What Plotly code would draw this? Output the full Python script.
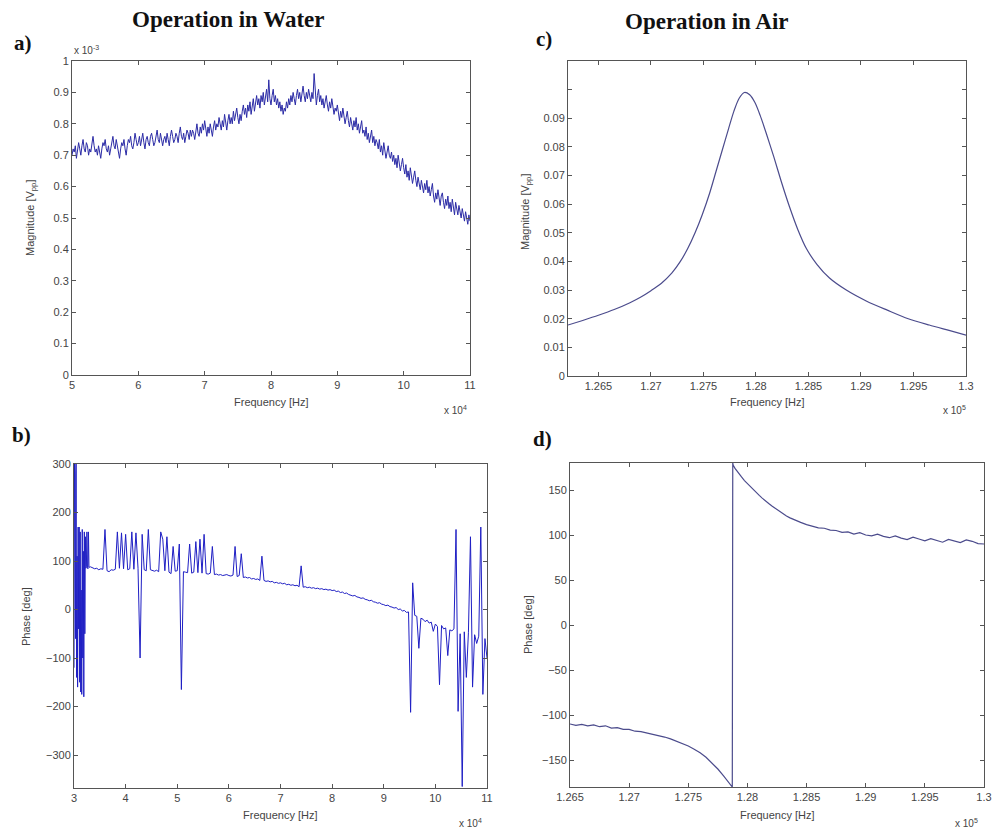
import numpy as np
import plotly.graph_objects as go

# ---------------- data ----------------
# a) magnitude in water, sweep 5e4 .. 11e4 Hz (x in units of 1e4 Hz, y in units of 1e-3 Vpp)
freq_water_mag = np.linspace(5.0, 11.0, 361)
mag_water = [
    0.70, 0.72, 0.71, 0.73, 0.69, 0.72, 0.74, 0.72, 0.70, 0.73, 0.75, 0.72,
    0.71, 0.74, 0.73, 0.70, 0.72, 0.71, 0.74, 0.76, 0.73, 0.71, 0.72, 0.70,
    0.73, 0.71, 0.69, 0.72, 0.74, 0.73, 0.75, 0.72, 0.71, 0.73, 0.70, 0.72,
    0.74, 0.76, 0.73, 0.72, 0.75, 0.73, 0.71, 0.69, 0.72, 0.74, 0.73, 0.75,
    0.72, 0.70, 0.73, 0.75, 0.74, 0.76, 0.73, 0.72, 0.74, 0.77, 0.75, 0.73,
    0.74, 0.76, 0.73, 0.75, 0.77, 0.74, 0.72, 0.75, 0.76, 0.74, 0.73, 0.76,
    0.77, 0.75, 0.73, 0.74, 0.76, 0.78, 0.75, 0.74, 0.77, 0.75, 0.73, 0.75,
    0.76, 0.74, 0.77, 0.75, 0.73, 0.76, 0.78, 0.76, 0.74, 0.75, 0.77, 0.76,
    0.74, 0.77, 0.79, 0.76, 0.75, 0.77, 0.74, 0.76, 0.78, 0.77, 0.75, 0.78,
    0.76, 0.78, 0.77, 0.75, 0.78, 0.80, 0.77, 0.76, 0.79, 0.77, 0.80, 0.78,
    0.81, 0.78, 0.76, 0.79, 0.77, 0.80, 0.78, 0.76, 0.79, 0.81, 0.78, 0.80,
    0.79, 0.82, 0.80, 0.78, 0.81, 0.79, 0.83, 0.80, 0.78, 0.81, 0.83, 0.80,
    0.82, 0.80, 0.84, 0.81, 0.83, 0.85, 0.82, 0.80, 0.83, 0.81, 0.84, 0.86,
    0.83, 0.85, 0.82, 0.86, 0.84, 0.87, 0.83, 0.85, 0.88, 0.84, 0.86, 0.89,
    0.86, 0.88, 0.85, 0.89, 0.87, 0.90, 0.86, 0.88, 0.91, 0.87, 0.94, 0.88,
    0.86, 0.89, 0.91, 0.87, 0.89, 0.86, 0.88, 0.85, 0.87, 0.84, 0.86, 0.83,
    0.85, 0.84, 0.87, 0.85, 0.88, 0.86, 0.89, 0.87, 0.90, 0.88, 0.86, 0.89,
    0.91, 0.88, 0.90, 0.87, 0.89, 0.92, 0.89, 0.87, 0.90, 0.88, 0.91, 0.89,
    0.87, 0.90, 0.88, 0.96, 0.89, 0.86, 0.89, 0.91, 0.87, 0.89, 0.86, 0.88,
    0.85, 0.87, 0.89, 0.86, 0.84, 0.87, 0.85, 0.88, 0.86, 0.83, 0.85, 0.84,
    0.86, 0.83, 0.81, 0.84, 0.82, 0.85, 0.83, 0.80, 0.82, 0.84, 0.81, 0.79,
    0.82, 0.80, 0.78, 0.81, 0.79, 0.82, 0.78, 0.80, 0.77, 0.79, 0.81, 0.77,
    0.78, 0.76, 0.79, 0.75, 0.77, 0.74, 0.76, 0.78, 0.74, 0.76, 0.73, 0.75,
    0.74, 0.72, 0.75, 0.71, 0.73, 0.70, 0.74, 0.72, 0.69, 0.71, 0.73, 0.70,
    0.69, 0.71, 0.68, 0.70, 0.67, 0.69, 0.66, 0.70, 0.68, 0.65, 0.67, 0.69,
    0.66, 0.64, 0.67, 0.63, 0.65, 0.62, 0.66, 0.64, 0.61, 0.63, 0.65, 0.62,
    0.60, 0.63, 0.61, 0.59, 0.62, 0.60, 0.58, 0.61, 0.59, 0.62, 0.58, 0.60,
    0.57, 0.59, 0.61, 0.57, 0.55, 0.58, 0.56, 0.59, 0.57, 0.54, 0.57, 0.58,
    0.55, 0.53, 0.56, 0.54, 0.57, 0.53, 0.55, 0.52, 0.56, 0.54, 0.51, 0.55,
    0.53, 0.51, 0.54, 0.52, 0.50, 0.53, 0.51, 0.49, 0.52, 0.50, 0.48, 0.51,
    0.49,
]

# b) phase in water, sweep 3e4 .. 11e4 Hz (x in units of 1e4 Hz):
#    fine steps over the unsettled start, coarser steps afterwards
freq_water_phase = np.concatenate([np.linspace(3.00, 3.29, 30), np.linspace(3.32, 11.0, 193)])
phase_water = [
    -120, 300, 280, -60, 300, -140, 110, -160, 170, -40,
    170, -150, 160, -170, 40, -175, 165, -100, 120, -180,
    160, -50, 150, 85, 88, 160, 86, 84, 160, 87,
    88, 86,
    84, 85, 82, 84, 83, 165, 80, 78, 82, 81,
    83, 160, 85, 158, 84, 155, 82, 84, 160, 83,
    158, 85, -100, 155, 82, 80, 165, 82, 80, 79,
    81, 78, 160, 145, 80, 150, 77, 74, 130, 79,
    80, 135, -165, 78, 77, 76, 135, 75, 77, 140,
    76, 145, 75, 155, 74, 73, 75, 130, 72, 73,
    71, 72, 70, 71, 72, 70, 69, 71, 130, 68,
    70, 115, 66, 67, 65, 66, 63, 64, 62, 63,
    60, 110, 60, 58, 59, 57, 58, 55, 56, 54,
    55, 53, 54, 51, 52, 50, 51, 49, 50, 47,
    90, 46, 47, 45, 46, 44, 45, 43, 44, 42,
    43, 41, 42, 40, 41, 39, 40, 37, 38, 35,
    36, 33, 34, 31, 30, 28, 29, 26, 25, 23,
    24, 21, 20, 18, 19, 16, 15, 13, 14, 11,
    10, 8, 9, 6, 5, 3, 4, 0, 1, -3,
    -2, -6, -5, -212, 55, -12, -14, -80, -18, -20,
    -25, -22, -28, -26, -45, -30, -35, -155, -33, -40,
    -38, -95, -42, -44, -40, 165, -210, -50, -365, -46,
    -140, -48, 150, -160, -52, -70, -55, 170, -175, -60,
    -100,
]

# c) magnitude in air (x in units of 1e5 Hz, y in Vpp)
freq_air_mag = [
    1.2621, 1.2635, 1.2650, 1.2665, 1.2680, 1.2690, 1.2700, 1.2710, 1.2720, 1.2728,
    1.2735, 1.2742, 1.2749, 1.2756, 1.2762, 1.2768, 1.2774, 1.2779, 1.2784, 1.2789,
    1.2794, 1.2799, 1.2804, 1.2810, 1.2817, 1.2824, 1.2832, 1.2840, 1.2848, 1.2858,
    1.2870, 1.2886, 1.2905, 1.2925, 1.2945, 1.2965, 1.2983, 1.3000,
]
mag_air = [
    0.0178, 0.0194, 0.0212, 0.0232, 0.0256, 0.0275, 0.0298, 0.0324, 0.0360, 0.0400,
    0.0445, 0.0500, 0.0565, 0.0640, 0.0715, 0.0790, 0.0865, 0.0925, 0.0970, 0.0990,
    0.0982, 0.0955, 0.0910, 0.0845, 0.0765, 0.0680, 0.0590, 0.0510, 0.0445, 0.0390,
    0.0342, 0.0300, 0.0262, 0.0230, 0.0200, 0.0178, 0.0160, 0.0143,
]

# d) phase in air (x in units of 1e5 Hz, y in degrees)
freq_air_phase = [
    1.2650, 1.2655, 1.2660, 1.2665, 1.2670, 1.2675, 1.2680, 1.2685, 1.2690, 1.2695,
    1.2700, 1.2705, 1.2710, 1.2715, 1.2720, 1.2725, 1.2730, 1.2735, 1.2740, 1.2745,
    1.2750, 1.2755, 1.2760, 1.2765, 1.2770, 1.2775, 1.2780, 1.2785, 1.27872, 1.27876,
    1.2788, 1.27895, 1.2791, 1.2793, 1.2795, 1.27975, 1.2800, 1.28025, 1.2805, 1.28075,
    1.2810, 1.28125, 1.2815, 1.2818, 1.2821, 1.2824, 1.2827, 1.2830, 1.2833, 1.2836,
    1.2840, 1.2845, 1.2850, 1.2855, 1.2860, 1.2865, 1.2870, 1.2875, 1.2880,
    1.2885, 1.2890, 1.2895, 1.2900, 1.2905, 1.2910, 1.2915, 1.2920, 1.2925, 1.2930,
    1.2935, 1.2940, 1.2945, 1.2950, 1.2955, 1.2960, 1.2965, 1.2970, 1.2975, 1.2980,
    1.2985, 1.2990, 1.2995, 1.3000,
]
phase_air = [
    -110, -111.5, -110.5, -112, -111, -113, -112, -114.5, -114, -116,
    -116, -118, -118.5, -120, -121, -122.5, -124.5, -126.5, -129, -131.5,
    -134.5, -138, -142, -147, -153, -160, -168, -177, -180, 180,
    177.5, 174, 171, 167.5, 164.5, 160.5, 157, 153.5, 150, 147,
    144, 141, 138, 135, 132, 129, 126, 123.5, 121, 119,
    116.5, 114, 111.5, 110, 108, 107.5, 105.5, 105, 103,
    103.5, 101, 102.5, 100, 99, 101, 98.5, 97, 99, 96.5,
    95, 97.5, 95.5, 93.5, 96, 94, 92, 95, 93, 91.5,
    94.5, 93, 90.5, 90,
]

# tick labels
ticks_mag_water = [0, 0.1, 0.2, 0.3, 0.4, 0.5, 0.6, 0.7, 0.8, 0.9, 1.0]
ticktext_mag_water = ["0", "0.1", "0.2", "0.3", "0.4", "0.5", "0.6", "0.7", "0.8", "0.9", "1"]
ticks_freq_mag_water = [5, 6, 7, 8, 9, 10, 11]
ticks_freq_phase_water = [3, 4, 5, 6, 7, 8, 9, 10, 11]
ticks_phase_water = [-300, -200, -100, 0, 100, 200, 300]
ticks_mag_air = [0, 0.01, 0.02, 0.03, 0.04, 0.05, 0.06, 0.07, 0.08, 0.09, 0.10]
ticktext_mag_air = ["0", "0.01", "0.02", "0.03", "0.04", "0.05", "0.06", "0.07", "0.08", "0.09", ""]
ticks_freq_air = [1.265, 1.27, 1.275, 1.28, 1.285, 1.29, 1.295, 1.3]
ticktext_freq_air = ["1.265", "1.27", "1.275", "1.28", "1.285", "1.29", "1.295", "1.3"]
ticks_phase_air = [-150, -100, -50, 0, 50, 100, 150]

# ---------------- figure ----------------
W, H = 992, 830


def xdom(l, r):
    return [l / W, r / W]


def ydom(b, t):
    return [1 - b / H, 1 - t / H]


fig = go.Figure()

fig.add_trace(go.Scatter(x=freq_water_mag, y=mag_water, mode="lines",
                         line=dict(color="#2b2ba6", width=1), xaxis="x", yaxis="y"))
fig.add_trace(go.Scatter(x=freq_water_phase, y=phase_water, mode="lines",
                         line=dict(color="#1f1fc4", width=1), xaxis="x2", yaxis="y2"))
fig.add_trace(go.Scatter(x=freq_air_mag, y=mag_air, mode="lines",
                         line=dict(color="#4b4b8c", width=1.2, shape="spline", smoothing=0.8),
                         xaxis="x3", yaxis="y3"))
fig.add_trace(go.Scatter(x=freq_air_phase, y=phase_air, mode="lines",
                         line=dict(color="#4b4b8c", width=1.2), xaxis="x4", yaxis="y4"))

axis_common = dict(showline=True, linecolor="#555555", linewidth=1, mirror="ticks",
                   ticks="inside", ticklen=4, tickcolor="#555555", showgrid=False,
                   zeroline=False, automargin=False,
                   tickfont=dict(family="Liberation Sans, Arial", size=11, color="#444444"))

layout = dict(
    width=W, height=H, autosize=False, margin=dict(l=0, r=0, t=0, b=0, pad=0),
    paper_bgcolor="white", plot_bgcolor="white", showlegend=False,
    xaxis=dict(domain=xdom(72, 470), range=[5, 11], tickvals=ticks_freq_mag_water,
               anchor="y", **axis_common),
    yaxis=dict(domain=ydom(375, 61), range=[0, 1], tickvals=ticks_mag_water,
               ticktext=ticktext_mag_water, anchor="x", **axis_common),
    xaxis2=dict(domain=xdom(74, 487), range=[3, 11], tickvals=ticks_freq_phase_water,
                anchor="y2", **axis_common),
    yaxis2=dict(domain=ydom(788, 464), range=[-368, 300], tickvals=ticks_phase_water,
                anchor="x2", **axis_common),
    xaxis3=dict(domain=xdom(568, 966), range=[1.2621, 1.3], tickvals=ticks_freq_air,
                ticktext=ticktext_freq_air, anchor="y3", **axis_common),
    yaxis3=dict(domain=ydom(376, 61), range=[0, 0.11], tickvals=ticks_mag_air,
                ticktext=ticktext_mag_air, anchor="x3", **axis_common),
    xaxis4=dict(domain=xdom(570, 984), range=[1.265, 1.3], tickvals=ticks_freq_air,
                ticktext=ticktext_freq_air, anchor="y4", **axis_common),
    yaxis4=dict(domain=ydom(787, 463), range=[-180, 180], tickvals=ticks_phase_air,
                anchor="x4", **axis_common),
)
fig.update_layout(**layout)

label_font = dict(family="Liberation Sans, Arial", size=11, color="#444444")
title_font = dict(family="Liberation Serif, Times New Roman", size=23, color="#111111")
letter_font = dict(family="Liberation Serif, Times New Roman", size=21, color="#111111")


def note(x, y, text, font, angle=0, xanchor="center", yanchor="middle"):
    fig.add_annotation(x=x / W, y=1 - y / H, xref="paper", yref="paper", text=text,
                       showarrow=False, font=font, textangle=angle,
                       xanchor=xanchor, yanchor=yanchor)


# column headings and panel letters
note(228, 20, "<b>Operation in Water</b>", title_font)
note(707, 21, "<b>Operation in Air</b>", title_font)
note(23, 43, "<b>a)</b>", letter_font)
note(544, 39, "<b>c)</b>", letter_font)
note(21, 435, "<b>b)</b>", letter_font)
note(542, 439, "<b>d)</b>", letter_font)

# axis titles
note(271, 402, "Frequency [Hz]", label_font)
note(767, 402, "Frequency [Hz]", label_font)
note(280, 815, "Frequency [Hz]", label_font)
note(777, 815, "Frequency [Hz]", label_font)
note(31, 218, "Magnitude [V<sub>pp</sub>]", label_font, angle=-90)
note(526, 212, "Magnitude [V<sub>pp</sub>]", label_font, angle=-90)
note(26, 617, "Phase [deg]", label_font, angle=-90)
note(528, 625, "Phase [deg]", label_font, angle=-90)

# axis exponent multipliers
small_font = dict(family="Liberation Sans, Arial", size=10, color="#444444")
note(72, 50, "x 10<sup>-3</sup>", small_font, xanchor="left")
note(455, 410, "x 10<sup>4</sup>", small_font)
note(954, 410, "x 10<sup>5</sup>", small_font)
note(470, 823, "x 10<sup>4</sup>", small_font)
note(966, 823, "x 10<sup>5</sup>", small_font)

fig.write_html("out.html")
